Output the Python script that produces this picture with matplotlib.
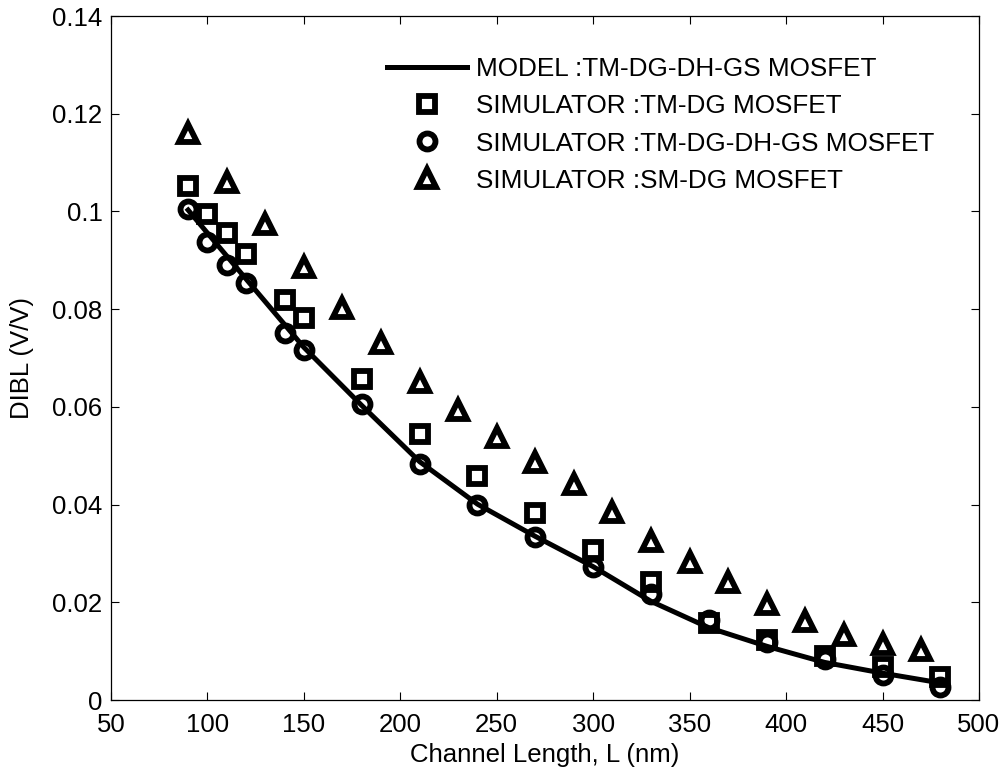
import matplotlib
matplotlib.use("Agg")
import matplotlib.pyplot as plt

plt.rcParams['font.family'] = ['Liberation Sans', 'DejaVu Sans']

# model line
L_model = [90, 120, 150, 180, 210, 240, 270, 300, 330, 360, 390, 420, 450, 480]
dibl_model = [0.1003, 0.0862, 0.0722, 0.0603, 0.0488, 0.0401, 0.0335, 0.0273,
              0.0202, 0.0148, 0.0110, 0.0077, 0.0055, 0.0035]

# simulator points
L_sim = [90, 100, 110, 120, 140, 150, 180, 210, 240, 270, 300, 330, 360, 390, 420, 450, 480]
dibl_tmdg = [0.1052, 0.0995, 0.0955, 0.0913, 0.0819, 0.0781, 0.0658, 0.0544, 0.0459,
             0.0382, 0.0308, 0.0242, 0.0157, 0.0123, 0.0091, 0.0068, 0.0048]
dibl_tmdgdhgs = [0.1006, 0.0938, 0.0890, 0.0853, 0.0752, 0.0716, 0.0606, 0.0483, 0.0400,
                 0.0334, 0.0273, 0.0218, 0.0164, 0.0119, 0.0085, 0.0051, 0.0027]

L_sm = [90, 110, 130, 150, 170, 190, 210, 230, 250, 270, 290, 310, 330, 350, 370,
        390, 410, 430, 450, 470]
dibl_smdg = [0.1160, 0.1061, 0.0974, 0.0887, 0.0803, 0.0730, 0.0651, 0.0594, 0.0539,
             0.0488, 0.0443, 0.0384, 0.0325, 0.0282, 0.0242, 0.0196, 0.0162, 0.0133,
             0.0115, 0.0102]

xticks = [50, 100, 150, 200, 250, 300, 350, 400, 450, 500]
yticks = [0, 0.02, 0.04, 0.06, 0.08, 0.1, 0.12, 0.14]
ytick_labels = ['0', '0.02', '0.04', '0.06', '0.08', '0.1', '0.12', '0.14']

fig = plt.figure(figsize=(10.05, 7.76), dpi=100)
ax = fig.add_axes([0.1104, 0.0979, 0.8637, 0.8814])

mew = 4.2
ax.plot(L_model, dibl_model, 'k-', lw=3.6, label='MODEL :TM-DG-DH-GS MOSFET')
ax.plot(L_sim, dibl_tmdg, 's', ms=11.5, mfc='none', mec='k', mew=mew,
        label='SIMULATOR :TM-DG MOSFET')
ax.plot(L_sim, dibl_tmdgdhgs, 'o', ms=11.5, mfc='none', mec='k', mew=mew,
        label='SIMULATOR :TM-DG-DH-GS MOSFET')
ax.plot(L_sm, dibl_smdg, '^', ms=13.5, mfc='none', mec='k', mew=mew,
        label='SIMULATOR :SM-DG MOSFET')

ax.set_xlim(50, 500)
ax.set_ylim(0, 0.14)
ax.set_xticks(xticks)
ax.set_yticks(yticks)
ax.set_yticklabels(ytick_labels)
ax.tick_params(direction='in', top=True, right=True, length=6, width=0.8,
               labelsize=18.5)
ax.tick_params(axis='x', pad=9)
ax.tick_params(axis='y', pad=6)
for s in ax.spines.values():
    s.set_linewidth(0.9)

ax.set_xlabel('Channel Length, L (nm)', fontsize=18.5, labelpad=5)
ax.set_ylabel('DIBL (V/V)', fontsize=18.5, labelpad=13)

ax.legend(loc='upper left', bbox_to_anchor=(0.318, 0.9395), frameon=False,
          fontsize=18.8, handlelength=3.06, handletextpad=0.35, labelspacing=0.5,
          borderpad=0, borderaxespad=0)

fig.savefig('out.png', dpi=100)
